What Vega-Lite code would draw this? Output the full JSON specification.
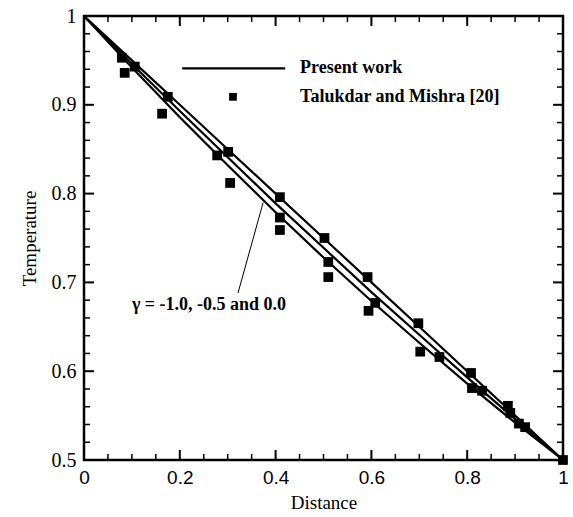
{
  "$schema": "https://vega.github.io/schema/vega-lite/v6.json",
  "width": 479,
  "height": 444,
  "autosize": "none",
  "padding": {"left": 84, "top": 16, "right": 10, "bottom": 57},
  "background": "white",
  "config": {
    "view": {"stroke": "black", "strokeWidth": 2.5},
    "axis": {"domain": false, "ticks": false, "grid": false, "labelColor": "black", "titleColor": "black"}
  },
  "datasets": {
    "lines": [
      {"series": "g0", "x": 0, "y": 1}, {"series": "g0", "x": 0.1, "y": 0.95}, {"series": "g0", "x": 0.2, "y": 0.9}, {"series": "g0", "x": 0.3, "y": 0.85}, {"series": "g0", "x": 0.4, "y": 0.8}, {"series": "g0", "x": 0.5, "y": 0.75}, {"series": "g0", "x": 0.6, "y": 0.7}, {"series": "g0", "x": 0.7, "y": 0.65}, {"series": "g0", "x": 0.8, "y": 0.6}, {"series": "g0", "x": 0.9, "y": 0.55}, {"series": "g0", "x": 1, "y": 0.5},
      {"series": "g05", "x": 0, "y": 1}, {"series": "g05", "x": 0.1, "y": 0.946}, {"series": "g05", "x": 0.2, "y": 0.893}, {"series": "g05", "x": 0.3, "y": 0.841}, {"series": "g05", "x": 0.4, "y": 0.789}, {"series": "g05", "x": 0.5, "y": 0.739}, {"series": "g05", "x": 0.6, "y": 0.689}, {"series": "g05", "x": 0.7, "y": 0.641}, {"series": "g05", "x": 0.8, "y": 0.593}, {"series": "g05", "x": 0.9, "y": 0.546}, {"series": "g05", "x": 1, "y": 0.5},
      {"series": "g1", "x": 0, "y": 1}, {"series": "g1", "x": 0.1, "y": 0.942}, {"series": "g1", "x": 0.2, "y": 0.886}, {"series": "g1", "x": 0.3, "y": 0.832}, {"series": "g1", "x": 0.4, "y": 0.779}, {"series": "g1", "x": 0.5, "y": 0.728}, {"series": "g1", "x": 0.6, "y": 0.679}, {"series": "g1", "x": 0.7, "y": 0.632}, {"series": "g1", "x": 0.8, "y": 0.586}, {"series": "g1", "x": 0.9, "y": 0.542}, {"series": "g1", "x": 1, "y": 0.5}
    ],
    "points": [
      {"x": 0.079, "y": 0.953}, {"x": 0.085, "y": 0.936}, {"x": 0.106, "y": 0.943}, {"x": 0.175, "y": 0.909}, {"x": 0.163, "y": 0.89},
      {"x": 0.278, "y": 0.843}, {"x": 0.301, "y": 0.847}, {"x": 0.305, "y": 0.812}, {"x": 0.409, "y": 0.796}, {"x": 0.409, "y": 0.773}, {"x": 0.409, "y": 0.759},
      {"x": 0.502, "y": 0.75}, {"x": 0.51, "y": 0.723}, {"x": 0.51, "y": 0.706}, {"x": 0.592, "y": 0.706}, {"x": 0.608, "y": 0.677}, {"x": 0.594, "y": 0.668},
      {"x": 0.698, "y": 0.654}, {"x": 0.702, "y": 0.622}, {"x": 0.742, "y": 0.616}, {"x": 0.808, "y": 0.598}, {"x": 0.81, "y": 0.581}, {"x": 0.831, "y": 0.578},
      {"x": 0.885, "y": 0.561}, {"x": 0.89, "y": 0.553}, {"x": 0.908, "y": 0.541}, {"x": 0.921, "y": 0.537}, {"x": 1.0, "y": 0.5}
    ],
    "xmajor": [{"v": 0.2}, {"v": 0.4}, {"v": 0.6}, {"v": 0.8}],
    "xminor": [{"v": 0.05}, {"v": 0.1}, {"v": 0.15}, {"v": 0.25}, {"v": 0.3}, {"v": 0.35}, {"v": 0.45}, {"v": 0.5}, {"v": 0.55}, {"v": 0.65}, {"v": 0.7}, {"v": 0.75}, {"v": 0.85}, {"v": 0.9}, {"v": 0.95}],
    "ymajor": [{"v": 0.6}, {"v": 0.7}, {"v": 0.8}, {"v": 0.9}],
    "yminor": [{"v": 0.52}, {"v": 0.54}, {"v": 0.56}, {"v": 0.58}, {"v": 0.62}, {"v": 0.64}, {"v": 0.66}, {"v": 0.68}, {"v": 0.72}, {"v": 0.74}, {"v": 0.76}, {"v": 0.78}, {"v": 0.82}, {"v": 0.84}, {"v": 0.86}, {"v": 0.88}, {"v": 0.92}, {"v": 0.94}, {"v": 0.96}, {"v": 0.98}]
  },
  "layer": [
    {
      "data": {"name": "lines"},
      "mark": {"type": "line", "color": "black", "strokeWidth": 2.2},
      "encoding": {
        "x": {"field": "x", "type": "quantitative", "scale": {"domain": [0, 1], "nice": false, "zero": false},
              "axis": {"orient": "bottom", "title": "Distance", "values": [0, 0.2, 0.4, 0.6, 0.8, 1], "format": "~g", "labelPadding": 8,
                       "labelFont": "Liberation Sans", "labelFontSize": 19, "labelFlush": false, "titleFont": "Times New Roman, Liberation Serif, serif", "titleFontSize": 19, "titleFontWeight": "normal", "titlePadding": 6}},
        "y": {"field": "y", "type": "quantitative", "scale": {"domain": [0.5, 1], "nice": false, "zero": false},
              "axis": {"orient": "left", "title": "Temperature", "values": [0.5, 0.6, 0.7, 0.8, 0.9, 1], "format": "~g", "labelPadding": 8,
                       "labelFont": "Times New Roman, Liberation Serif, serif", "labelFontSize": 20, "labelFlush": false, "titleFont": "Times New Roman, Liberation Serif, serif", "titleFontSize": 19, "titleFontWeight": "normal", "titlePadding": 12}},
        "detail": {"field": "series"}
      }
    },
    {
      "data": {"name": "points"},
      "mark": {"type": "point", "shape": "square", "filled": true, "color": "black", "size": 95, "opacity": 1},
      "encoding": {
        "x": {"field": "x", "type": "quantitative"},
        "y": {"field": "y", "type": "quantitative"}
      }
    },
    {
      "data": {"name": "xmajor"},
      "mark": {"type": "rule", "color": "black", "strokeWidth": 2},
      "encoding": {"x": {"field": "v", "type": "quantitative"}, "y": {"datum": 0.5, "type": "quantitative"}, "y2": {"datum": 0.5113}}
    },
    {
      "data": {"name": "xmajor"},
      "mark": {"type": "rule", "color": "black", "strokeWidth": 2},
      "encoding": {"x": {"field": "v", "type": "quantitative"}, "y": {"datum": 1, "type": "quantitative"}, "y2": {"datum": 0.9887}}
    },
    {
      "data": {"name": "xminor"},
      "mark": {"type": "rule", "color": "black", "strokeWidth": 1.5},
      "encoding": {"x": {"field": "v", "type": "quantitative"}, "y": {"datum": 0.5, "type": "quantitative"}, "y2": {"datum": 0.5068}}
    },
    {
      "data": {"name": "xminor"},
      "mark": {"type": "rule", "color": "black", "strokeWidth": 1.5},
      "encoding": {"x": {"field": "v", "type": "quantitative"}, "y": {"datum": 1, "type": "quantitative"}, "y2": {"datum": 0.9932}}
    },
    {
      "data": {"name": "ymajor"},
      "mark": {"type": "rule", "color": "black", "strokeWidth": 2},
      "encoding": {"y": {"field": "v", "type": "quantitative"}, "x": {"datum": 0, "type": "quantitative"}, "x2": {"datum": 0.0209}}
    },
    {
      "data": {"name": "ymajor"},
      "mark": {"type": "rule", "color": "black", "strokeWidth": 2},
      "encoding": {"y": {"field": "v", "type": "quantitative"}, "x": {"datum": 1, "type": "quantitative"}, "x2": {"datum": 0.9791}}
    },
    {
      "data": {"name": "yminor"},
      "mark": {"type": "rule", "color": "black", "strokeWidth": 1.5},
      "encoding": {"y": {"field": "v", "type": "quantitative"}, "x": {"datum": 0, "type": "quantitative"}, "x2": {"datum": 0.0125}}
    },
    {
      "data": {"name": "yminor"},
      "mark": {"type": "rule", "color": "black", "strokeWidth": 1.5},
      "encoding": {"y": {"field": "v", "type": "quantitative"}, "x": {"datum": 1, "type": "quantitative"}, "x2": {"datum": 0.9875}}
    },
    {
      "data": {"values": [{"label": "Present work"}]},
      "mark": {"type": "rule", "color": "black", "strokeWidth": 2.2},
      "encoding": {
        "x": {"datum": 0.205, "type": "quantitative"},
        "x2": {"datum": 0.42},
        "y": {"datum": 0.941, "type": "quantitative"}
      }
    },
    {
      "data": {"values": [{"label": "Talukdar and Mishra [20]"}]},
      "mark": {"type": "point", "shape": "square", "filled": true, "color": "black", "size": 60, "opacity": 1},
      "encoding": {
        "x": {"datum": 0.311, "type": "quantitative"},
        "y": {"datum": 0.909, "type": "quantitative"}
      }
    },
    {
      "data": {"values": [{"label": "Present work"}]},
      "mark": {"type": "text", "align": "left", "baseline": "middle", "font": "Times New Roman, Liberation Serif, serif", "fontSize": 18, "fontWeight": "bold", "color": "black"},
      "encoding": {
        "x": {"datum": 0.451, "type": "quantitative"},
        "y": {"datum": 0.942, "type": "quantitative"},
        "text": {"field": "label"}
      }
    },
    {
      "data": {"values": [{"label": "Talukdar and Mishra [20]"}]},
      "mark": {"type": "text", "align": "left", "baseline": "middle", "font": "Times New Roman, Liberation Serif, serif", "fontSize": 18, "fontWeight": "bold", "color": "black"},
      "encoding": {
        "x": {"datum": 0.451, "type": "quantitative"},
        "y": {"datum": 0.909, "type": "quantitative"},
        "text": {"field": "label"}
      }
    },
    {
      "data": {"values": [{"label": "γ = -1.0, -0.5 and 0.0"}]},
      "mark": {"type": "text", "align": "left", "baseline": "middle", "font": "Times New Roman, Liberation Serif, serif", "fontSize": 18, "fontWeight": "bold", "color": "black"},
      "encoding": {
        "x": {"datum": 0.1, "type": "quantitative"},
        "y": {"datum": 0.675, "type": "quantitative"},
        "text": {"field": "label"}
      }
    },
    {
      "data": {"values": [{"label": "leader"}]},
      "mark": {"type": "rule", "color": "black", "strokeWidth": 1},
      "encoding": {
        "x": {"datum": 0.3215, "type": "quantitative"},
        "x2": {"datum": 0.374},
        "y": {"datum": 0.688, "type": "quantitative"},
        "y2": {"datum": 0.79}
      }
    }
  ]
}
